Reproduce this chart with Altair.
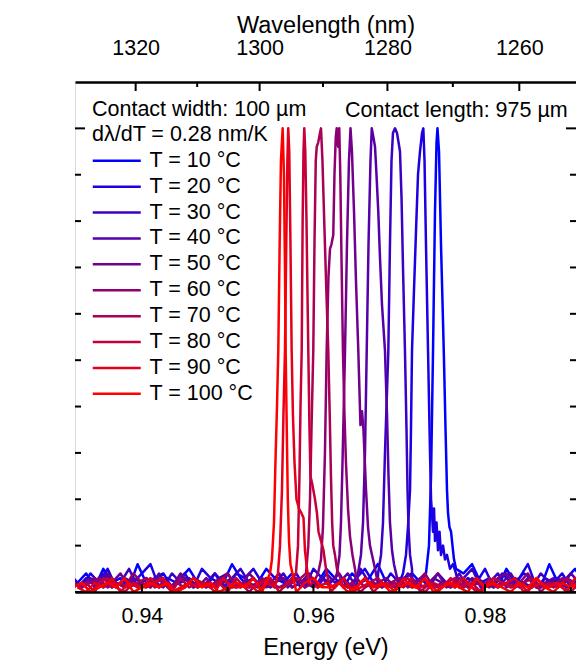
import altair as alt
import pandas as pd

F = "Liberation Sans"
HC = 1239.84  # eV*nm

# ---- shared energy sampling grids (eV) ----
E_grid_a = [0.9325, 0.9335, 0.9345, 0.9355, 0.9365, 0.9375, 0.9385, 0.9395, 0.9405, 0.9415,
            0.9425, 0.9435, 0.9445, 0.9455, 0.9465, 0.9475, 0.9485, 0.9495, 0.9505, 0.9515,
            0.9525, 0.9535, 0.9545, 0.9555, 0.9565, 0.9575, 0.9585, 0.9595, 0.9605, 0.9615,
            0.9625, 0.9635, 0.9645, 0.9655, 0.9665, 0.9675, 0.9685, 0.9695, 0.9705, 0.9715,
            0.9725, 0.9735, 0.9745, 0.9755, 0.9765, 0.9775, 0.9785, 0.9795, 0.9805, 0.9815,
            0.9825, 0.9835, 0.9845, 0.9855, 0.9865, 0.9875, 0.9885, 0.9895, 0.9905, 0.9915]
E_grid_b = [0.9320, 0.9330, 0.9340, 0.9350, 0.9360, 0.9370, 0.9380, 0.9390, 0.9400, 0.9410,
            0.9420, 0.9430, 0.9440, 0.9450, 0.9460, 0.9470, 0.9480, 0.9490, 0.9500, 0.9510,
            0.9520, 0.9530, 0.9540, 0.9550, 0.9560, 0.9570, 0.9580, 0.9590, 0.9600, 0.9610,
            0.9620, 0.9630, 0.9640, 0.9650, 0.9660, 0.9670, 0.9680, 0.9690, 0.9700, 0.9710,
            0.9720, 0.9730, 0.9740, 0.9750, 0.9760, 0.9770, 0.9780, 0.9790, 0.9800, 0.9810,
            0.9820, 0.9830, 0.9840, 0.9850, 0.9860, 0.9870, 0.9880, 0.9890, 0.9900, 0.9910]

temps = [10, 20, 30, 40, 50, 60, 70, 80, 90, 100]
labels = [f"T = {t} °C" for t in temps]
colors = ["#0000ff", "#1c00e3", "#3900c6", "#5500aa", "#71008e",
          "#8e0071", "#aa0055", "#c60039", "#e3001c", "#ff0000"]

# ---- baseline noise (units of 0.01 arb. units) ----
noise = {
    10: [2,4,1,5,2,3,1,6,2,3, 4,1,3,5,2,1,4,2,6,3, 1,2,5,3,2,4,1,3,2,5, 3,1,4,2,3,6,2,1,3,4, 2,5,1,3,2,4,6,2,3,1, 5,2,4,3,1,6,2,3,5,2],
    20: [3,1,4,2,5,1,3,2,4,6, 1,3,2,4,1,5,3,2,1,4, 3,5,2,1,3,2,4,1,5,3, 2,4,1,3,5,2,1,4,2,3, 1,5,3,2,4,1,3,2,5,1, 4,2,3,6,1,3,2,4,1,3],
    30: [1,3,2,4,1,2,5,1,3,2, 1,4,2,3,1,2,4,1,3,5, 2,1,3,2,4,1,2,3,1,4, 2,3,1,5,2,1,3,4,1,2, 3,1,4,2,1,3,5,1,2,4, 1,3,2,1,4,2,3,1,2,4],
    40: [2,1,3,1,4,2,1,3,2,1, 4,1,2,3,1,2,1,3,4,1, 2,3,1,2,4,1,3,2,1,3, 1,2,4,1,3,1,2,3,1,4, 2,1,3,2,1,4,1,3,2,1, 2,4,1,3,1,2,3,1,4,2],
    50: [1,2,3,1,2,4,1,2,1,3, 2,1,4,2,1,3,1,2,3,1, 4,2,1,2,3,1,2,4,1,2, 3,1,2,1,4,2,3,1,2,1, 3,2,4,1,2,1,3,2,1,3, 4,1,2,3,1,2,1,3,2,1],
    60: [2,1,2,3,1,2,1,4,2,1, 3,1,2,1,3,2,1,2,4,1, 2,1,3,2,1,2,3,1,2,1, 4,2,1,3,1,2,1,2,3,1, 2,4,1,2,1,3,1,2,1,3, 2,1,2,4,1,2,1,3,2,1],
    70: [1,2,0,3,1,2,1,2,3,1, 2,0,3,1,2,1,2,3,1,2, 0,2,3,1,1,2,3,0,2,1, 3,1,2,0,2,3,1,2,1,3, 0,2,1,2,3,1,2,0,3,1, 2,1,2,3,0,2,1,3,1,2],
    80: [1,2,0,2,3,1,0,2,1,3, 1,2,0,1,3,2,1,2,0,3, 1,1,2,3,0,2,1,2,1,3, 0,2,1,1,3,0,2,1,2,3, 1,0,2,1,3,1,2,0,1,3, 2,1,2,0,3,1,2,1,0,2],
    90: [1,0,2,1,3,0,2,1,1,2, 3,0,1,2,1,2,0,3,1,1, 2,0,2,1,3,1,0,2,1,2, 1,3,0,1,2,1,2,0,3,1, 1,2,0,2,1,3,1,0,2,1, 2,3,0,1,2,1,2,0,3,1],
    100: [1,2,0,1,2,1,3,0,1,2, 1,2,0,1,3,1,2,0,1,2, 1,3,0,1,2,1,0,2,3,1, 1,2,0,1,3,1,2,0,1,2, 1,3,0,1,2,1,0,3,1,2, 1,0,2,1,3,1,0,2,1,2],
}
grid_of = {10: E_grid_a, 20: E_grid_b, 30: E_grid_a, 40: E_grid_b, 50: E_grid_a,
           60: E_grid_b, 70: E_grid_a, 80: E_grid_b, 90: E_grid_a, 100: E_grid_b}

# ---- emission peaks: (energy eV, normalised intensity) ----
peaks = {
    10: [(0.97312, 0.04), (0.97347, 0.10), (0.97371, 0.25), (0.97394, 0.52), (0.97417, 0.82),
         (0.97435, 0.97), (0.97446, 1.00), (0.97464, 0.95), (0.97487, 0.75), (0.97511, 0.58),
         (0.97522, 0.50), (0.97540, 0.35), (0.97557, 0.22), (0.97569, 0.17), (0.97586, 0.14),
         (0.97604, 0.13), (0.97621, 0.10), (0.97639, 0.07), (0.97662, 0.05)],
    20: [(0.97044, 0.04), (0.97079, 0.08), (0.97102, 0.14), (0.97126, 0.22), (0.97137, 0.35),
         (0.97149, 0.52), (0.97172, 0.65), (0.97196, 0.78), (0.97219, 0.90), (0.97242, 0.95),
         (0.97266, 0.99), (0.97281, 1.00), (0.97295, 0.93), (0.97312, 0.75), (0.97336, 0.52),
         (0.97359, 0.30), (0.97371, 0.20), (0.97382, 0.17), (0.97394, 0.13), (0.97406, 0.18),
         (0.97417, 0.11), (0.97435, 0.15), (0.97452, 0.09), (0.97470, 0.13), (0.97487, 0.08),
         (0.97511, 0.10), (0.97534, 0.07), (0.97557, 0.08), (0.97592, 0.05), (0.97627, 0.06),
         (0.97662, 0.04)],
    30: [(0.96753, 0.04), (0.96788, 0.08), (0.96811, 0.15), (0.96834, 0.30), (0.96873, 0.52),
         (0.96892, 0.75), (0.96910, 0.93), (0.96927, 0.99), (0.96951, 1.00), (0.96974, 0.99),
         (0.96992, 0.97), (0.97009, 0.95), (0.97027, 0.85), (0.97044, 0.70), (0.97067, 0.52),
         (0.97085, 0.35), (0.97097, 0.22), (0.97108, 0.14), (0.97126, 0.08), (0.97149, 0.05)],
    40: [(0.96519, 0.04), (0.96554, 0.08), (0.96578, 0.15), (0.96601, 0.30), (0.96621, 0.52),
         (0.96642, 0.75), (0.96665, 0.93), (0.96680, 1.00), (0.96700, 0.98), (0.96718, 0.96),
         (0.96735, 0.90), (0.96756, 0.82), (0.96776, 0.72), (0.96799, 0.62), (0.96834, 0.52),
         (0.96858, 0.38), (0.96875, 0.25), (0.96892, 0.15), (0.96916, 0.09), (0.96939, 0.06)],
    50: [(0.96274, 0.04), (0.96304, 0.08), (0.96321, 0.15), (0.96339, 0.28), (0.96356, 0.42),
         (0.96368, 0.52), (0.96391, 0.75), (0.96414, 0.93), (0.96432, 1.00), (0.96449, 0.95),
         (0.96473, 0.82), (0.96496, 0.67), (0.96523, 0.52), (0.96548, 0.36), (0.96566, 0.39),
         (0.96583, 0.35), (0.96613, 0.22), (0.96636, 0.14), (0.96659, 0.10), (0.96683, 0.08),
         (0.96718, 0.05)],
    60: [(0.96053, 0.04), (0.96088, 0.07), (0.96111, 0.14), (0.96134, 0.30), (0.96154, 0.52),
         (0.96175, 0.68), (0.96193, 0.74), (0.96210, 0.75), (0.96231, 0.77), (0.96245, 0.90),
         (0.96260, 0.98), (0.96271, 1.00), (0.96280, 0.97), (0.96290, 0.96), (0.96301, 1.00),
         (0.96313, 0.90), (0.96327, 0.72), (0.96344, 0.52), (0.96362, 0.38), (0.96379, 0.28),
         (0.96403, 0.18), (0.96426, 0.12), (0.96455, 0.08), (0.96484, 0.05)],
    70: [(0.95913, 0.04), (0.95940, 0.10), (0.95960, 0.20), (0.95977, 0.35), (0.95998, 0.52),
         (0.96012, 0.75), (0.96027, 0.93), (0.96038, 0.96), (0.96056, 0.97), (0.96076, 0.99),
         (0.96088, 1.00), (0.96105, 0.93), (0.96129, 0.78), (0.96152, 0.64), (0.96173, 0.52),
         (0.96190, 0.38), (0.96204, 0.25), (0.96218, 0.15), (0.96231, 0.10), (0.96251, 0.08),
         (0.96274, 0.05)],
    80: [(0.95796, 0.04), (0.95820, 0.10), (0.95837, 0.25), (0.95849, 0.40), (0.95863, 0.52),
         (0.95874, 0.80), (0.95884, 0.95), (0.95893, 1.00), (0.95905, 0.95), (0.95919, 0.80),
         (0.95930, 0.65), (0.95940, 0.52), (0.95954, 0.35), (0.95965, 0.25), (0.95989, 0.23),
         (0.96018, 0.20), (0.96041, 0.17), (0.96059, 0.13), (0.96088, 0.11), (0.96117, 0.09),
         (0.96146, 0.05)],
    90: [(0.95586, 0.04), (0.95610, 0.10), (0.95633, 0.22), (0.95650, 0.38), (0.95668, 0.52),
         (0.95683, 0.75), (0.95696, 0.93), (0.95706, 1.00), (0.95718, 0.95), (0.95732, 0.75),
         (0.95746, 0.52), (0.95761, 0.38), (0.95779, 0.28), (0.95802, 0.20), (0.95831, 0.18),
         (0.95860, 0.17), (0.95884, 0.16), (0.95901, 0.09), (0.95925, 0.05)],
    100: [(0.95493, 0.04), (0.95516, 0.07), (0.95540, 0.15), (0.95557, 0.28), (0.95575, 0.40),
          (0.95590, 0.52), (0.95606, 0.75), (0.95621, 0.93), (0.95641, 1.00), (0.95656, 0.90),
          (0.95668, 0.70), (0.95676, 0.52), (0.95689, 0.35), (0.95701, 0.20), (0.95715, 0.11),
          (0.95732, 0.06), (0.95755, 0.04)],
}

# ---- axis tick values ----
x_major = [0.94, 0.96, 0.98]
x_minor = [0.95, 0.97, 0.99]
wl_major = [1320, 1300, 1280, 1260]
wl_minor = [1310, 1290, 1270]
y_major = [0, 1]
y_minor = [0.1, 0.2, 0.3, 0.4, 0.5, 0.6, 0.7, 0.8, 0.9]

rows = []
for k, t in enumerate(temps):
    pk = peaks[t]
    lo, hi = pk[0][0], pk[-1][0]
    for e, n in zip(grid_of[t], noise[t]):
        if e < lo or e > hi:
            rows.append({"E": e, "I": n / 100.0, "T": labels[k], "k": k})
    for e, i in pk:
        rows.append({"E": e, "I": i, "T": labels[k], "k": k})
df = pd.DataFrame(rows).sort_values(["k", "E"]).reset_index(drop=True)

W, H = 501, 510
xs = alt.Scale(domain=[0.9322, 0.99061], nice=False, zero=False)
ys = alt.Scale(domain=[0, 1.1], nice=False, zero=True)

txt = dict(labelFont=F, labelFontSize=21.5, labelColor="black",
           titleFont=F, titleFontSize=23.5, titleFontWeight="normal", titleColor="black",
           grid=False, ticks=False, domainColor="black", domainWidth=2.5, zindex=1,
           labelFlush=False)

bottom_axis = alt.Axis(values=x_major, format=".2f", labelPadding=13,
                       title="Energy (eV)", titlePadding=9, **txt)
left_axis = alt.Axis(values=y_major, format=".0f", labelPadding=11,
                     title="Luminescence Intensity (arb. units)", titlePadding=16, **txt)
top_axis = alt.Axis(orient="top", values=[HC / w for w in wl_major],
                    labelExpr="format(1239.84 / datum.value, '.0f')", labelPadding=23,
                    title="Wavelength (nm)", titlePadding=0, **txt)

lines = alt.Chart(df).mark_line(strokeWidth=2.5, clip=True, strokeJoin="round").encode(
    x=alt.X("E:Q", scale=xs, axis=bottom_axis),
    y=alt.Y("I:Q", scale=ys, axis=left_axis),
    color=alt.Color("T:N", scale=alt.Scale(domain=labels, range=colors), sort=labels,
                    legend=alt.Legend(
                        title=["Contact width: 100 µm", "dλ/dT = 0.28 nm/K"],
                        orient="none", legendX=17, legendY=17, padding=0,
                        titleFont=F, titleFontSize=21.5, titleFontWeight="normal",
                        titleColor="black", titleLineHeight=24.5, titlePadding=5,
                        titleLimit=400,
                        labelFont=F, labelFontSize=21.5, labelColor="black",
                        labelOffset=46, labelLimit=0,
                        symbolType="M0,0H9.6", symbolSize=100, symbolOffset=-10,
                        symbolStrokeWidth=2.5, rowPadding=2.9)),
)


def hticks(vals, length, top):
    d = pd.DataFrame({"E": vals})
    if top:
        yy = dict(y=alt.value(0), y2=alt.value(length))
    else:
        yy = dict(y=alt.value(H), y2=alt.value(H - length))
    return alt.Chart(d).mark_rule(color="black", strokeWidth=2).encode(
        x=alt.X("E:Q", scale=xs, axis=None), **yy)


def vticks(vals, length, right):
    d = pd.DataFrame({"I": vals})
    if right:
        xx = dict(x=alt.value(W), x2=alt.value(W - length))
    else:
        xx = dict(x=alt.value(0), x2=alt.value(length))
    return alt.Chart(d).mark_rule(color="black", strokeWidth=2).encode(
        y=alt.Y("I:Q", scale=ys, axis=None), **xx)


top_major_df = pd.DataFrame({"E": [HC / w for w in wl_major]})
top_major = alt.Chart(top_major_df).mark_rule(color="black", strokeWidth=2).encode(
    x=alt.X("E:Q", scale=xs, axis=top_axis), y=alt.value(0), y2=alt.value(9))
top_minor = hticks([HC / w for w in wl_minor], 5, True)

note = alt.Chart(pd.DataFrame({"t": ["Contact length: 975 µm"]})).mark_text(
    align="left", baseline="alphabetic", font=F, fontSize=21.5, color="black"
).encode(text="t:N", x=alt.value(270), y=alt.value(34.7))

chart = alt.layer(
    lines,
    hticks(x_major, 8, False), hticks(x_minor, 5, False),
    top_major, top_minor,
    vticks(y_major, 10, False), vticks(y_minor, 6, False),
    vticks(y_major, 10, True), vticks(y_minor, 6, True),
    note,
).resolve_axis(x="independent").properties(
    width=W, height=H,
    padding={"left": 67, "top": 74, "right": 0, "bottom": 80},
    autosize=alt.AutoSizeParams(type="none"),
).configure_view(stroke="black", strokeWidth=2.5).configure(background="white")

chart.save("out.html", embed_options={"renderer": "svg", "actions": False})
